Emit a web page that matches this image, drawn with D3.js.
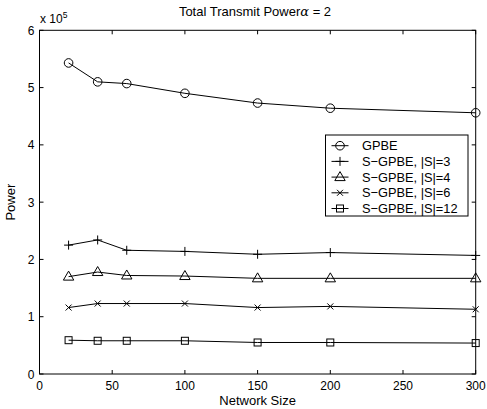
<!DOCTYPE html>
<html><head><meta charset="utf-8">
<script src="https://cdn.jsdelivr.net/npm/d3@7"></script>
<style>body{margin:0;background:#fff}svg{display:block}text{font-family:"Liberation Sans",Arial,sans-serif;fill:#000}</style>
</head><body>
<script>
const networkSizes = [20, 40, 60, 100, 150, 200, 300];
const gpbe   = [5.43, 5.10, 5.07, 4.90, 4.73, 4.64, 4.56];
const sgpbe3 = [2.25, 2.34, 2.16, 2.14, 2.09, 2.12, 2.07];
const sgpbe4 = [1.70, 1.78, 1.72, 1.71, 1.67, 1.67, 1.67];
const sgpbe6 = [1.16, 1.23, 1.23, 1.23, 1.16, 1.18, 1.13];
const sgpbe12 = [0.59, 0.58, 0.58, 0.58, 0.55, 0.55, 0.54];
const seriesNames = ["GPBE", "S\u2212GPBE, |S|=3", "S\u2212GPBE, |S|=4", "S\u2212GPBE, |S|=6", "S\u2212GPBE, |S|=12"];
const markerTypes = ["circle", "plus", "triangle", "x", "square"];
const xTicks = [0, 50, 100, 150, 200, 250, 300];
const yTicks = [0, 1, 2, 3, 4, 5, 6];

const W = 487, H = 409;
const m = {l: 39.5, r: 475.7, t: 30.3, b: 374};
const svg = d3.select("body").append("svg").attr("width", W).attr("height", H);
const x = d3.scaleLinear().domain([0, 300]).range([m.l, m.r]);
const y = d3.scaleLinear().domain([0, 6]).range([m.b, m.t]);

// box
svg.append("rect").attr("x", m.l).attr("y", m.t).attr("width", m.r - m.l).attr("height", m.b - m.t)
  .attr("fill", "none").attr("stroke", "#000").attr("stroke-width", 1);

const tl = 4;
const fs = 12;
xTicks.forEach(v => {
  svg.append("line").attr("x1", x(v)).attr("x2", x(v)).attr("y1", m.b).attr("y2", m.b - tl).attr("stroke", "#000");
  svg.append("line").attr("x1", x(v)).attr("x2", x(v)).attr("y1", m.t).attr("y2", m.t + tl).attr("stroke", "#000");
  svg.append("text").attr("x", x(v)).attr("y", m.b + 16).attr("text-anchor", "middle").attr("font-size", fs).text(v);
});
yTicks.forEach(v => {
  svg.append("line").attr("x1", m.l).attr("x2", m.l + tl).attr("y1", y(v)).attr("y2", y(v)).attr("stroke", "#000");
  svg.append("line").attr("x1", m.r).attr("x2", m.r - tl).attr("y1", y(v)).attr("y2", y(v)).attr("stroke", "#000");
  svg.append("text").attr("x", m.l - 5).attr("y", y(v) + 4.5).attr("text-anchor", "end").attr("font-size", fs).text(v);
});
const ex = svg.append("text").attr("x", 40).attr("y", 23).attr("font-size", 12);
ex.append("tspan").text("x 10");
ex.append("tspan").attr("font-size", 8.5).attr("dy", -5).text("5");

const tt = svg.append("text").attr("x", 255).attr("y", 16).attr("text-anchor", "middle").attr("font-size", 13);
tt.append("tspan").text("Total Transmit Power");
tt.append("tspan").attr("font-family", "DejaVu Serif, serif").attr("font-style", "italic").text("\u03B1");
tt.append("tspan").text(" = 2");

svg.append("text").attr("x", (m.l + m.r) / 2).attr("y", 405).attr("text-anchor", "middle").attr("font-size", 13).text("Network Size");
svg.append("text").attr("transform", `translate(15,${(m.t + m.b) / 2}) rotate(-90)`).attr("text-anchor", "middle").attr("font-size", 13).text("Power");

function drawMarker(g, type, cx, cy) {
  let el;
  if (type === "circle") el = g.append("circle").attr("cx", cx).attr("cy", cy).attr("r", 4.3);
  else if (type === "square") el = g.append("rect").attr("x", cx - 3.5).attr("y", cy - 3.5).attr("width", 7).attr("height", 7);
  else if (type === "triangle") el = g.append("path").attr("d", `M${cx},${cy - 5.5}L${cx + 5.2},${cy + 3.5}L${cx - 5.2},${cy + 3.5}Z`);
  else if (type === "plus") el = g.append("path").attr("d", `M${cx - 4.5},${cy}H${cx + 4.5}M${cx},${cy - 4.5}V${cy + 4.5}`);
  else if (type === "x") el = g.append("path").attr("d", `M${cx - 3},${cy - 3}L${cx + 3},${cy + 3}M${cx - 3},${cy + 3}L${cx + 3},${cy - 3}`);
  el.attr("fill", "none").attr("stroke", "#000").attr("stroke-width", 1);
}

const allSeries = [gpbe, sgpbe3, sgpbe4, sgpbe6, sgpbe12];
const line = d3.line().x((d, i) => x(networkSizes[i])).y(d => y(d));
allSeries.forEach((s, k) => {
  const g = svg.append("g");
  g.append("path").attr("d", line(s)).attr("fill", "none").attr("stroke", "#000").attr("stroke-width", 1);
  s.forEach((v, i) => drawMarker(g, markerTypes[k], x(networkSizes[i]), y(v)));
});

// legend
const lg = svg.append("g");
const lx = 325.5, ly = 135, lw = 142.5, lh = 81;
lg.append("rect").attr("x", lx).attr("y", ly).attr("width", lw).attr("height", lh).attr("fill", "#fff").attr("stroke", "#000").attr("stroke-width", 1);
seriesNames.forEach((n, k) => {
  const ry = ly + 10.7 + k * 15.7;
  lg.append("line").attr("x1", 331.5).attr("x2", 348.5).attr("y1", ry).attr("y2", ry).attr("stroke", "#000");
  drawMarker(lg, markerTypes[k], 340, ry);
  lg.append("text").attr("x", 362).attr("y", ry + 4.5).attr("font-size", 12.8).text(n);
});
</script>
</body></html>
